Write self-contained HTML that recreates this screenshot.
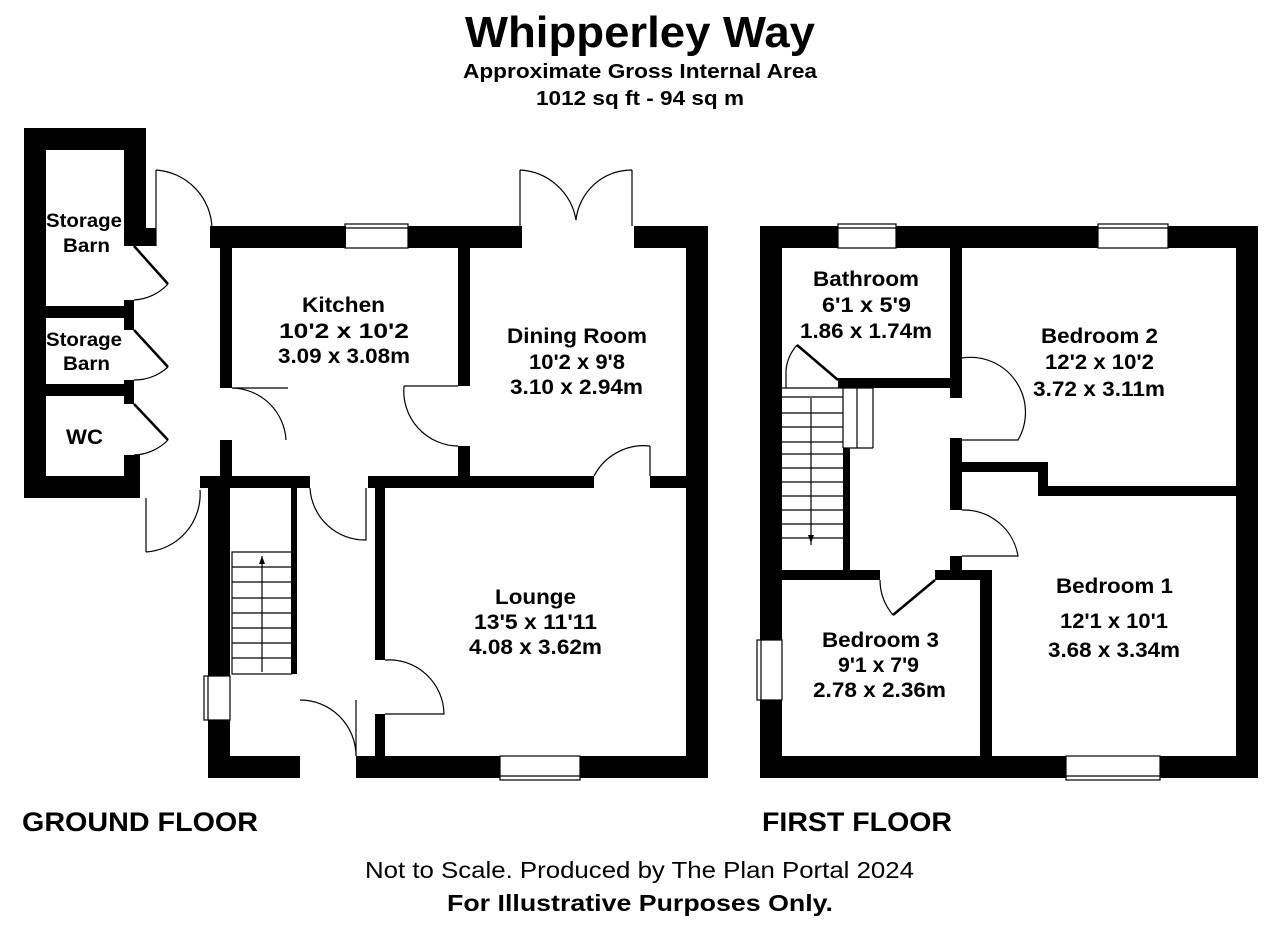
<!DOCTYPE html>
<html><head><meta charset="utf-8"><style>
html,body{margin:0;padding:0;background:#fff;}
svg{display:block;}
text{font-family:"Liberation Sans",Arial,sans-serif;fill:#000;}
</style></head><body>
<svg width="1280" height="927" viewBox="0 0 1280 927" xmlns="http://www.w3.org/2000/svg">
<text x="465" y="47" font-size="44" font-weight="bold" textLength="350" lengthAdjust="spacingAndGlyphs">Whipperley Way</text>
<text x="463" y="78" font-size="20" font-weight="bold" textLength="354" lengthAdjust="spacingAndGlyphs">Approximate Gross Internal Area</text>
<text x="536" y="105" font-size="20" font-weight="bold" textLength="208" lengthAdjust="spacingAndGlyphs">1012 sq ft - 94 sq m</text>

<g fill="#000">
<rect x="24" y="128" width="122" height="22"/>
<rect x="24" y="128" width="22" height="370"/>
<rect x="24" y="476" width="116" height="22"/>
<rect x="124" y="128" width="22" height="118"/>
<rect x="124" y="228" width="32" height="18"/>
<rect x="46" y="306" width="86" height="12"/>
<rect x="124" y="300" width="10" height="30"/>
<rect x="46" y="384" width="86" height="12"/>
<rect x="124" y="380" width="10" height="24"/>
<rect x="124" y="455" width="16" height="40"/>
<rect x="210" y="226" width="136" height="22"/>
<rect x="408" y="226" width="114" height="22"/>
<rect x="634" y="226" width="74" height="22"/>
<rect x="686" y="226" width="22" height="552"/>
<rect x="220" y="248" width="12" height="140"/>
<rect x="220" y="440" width="12" height="48"/>
<rect x="458" y="248" width="12" height="138"/>
<rect x="458" y="446" width="12" height="32"/>
<rect x="200" y="476" width="110" height="12"/>
<rect x="368" y="476" width="226" height="12"/>
<rect x="650" y="476" width="36" height="12"/>
<rect x="208" y="478" width="22" height="198"/>
<rect x="208" y="720" width="22" height="58"/>
<rect x="291" y="488" width="6" height="186"/>
<rect x="375" y="488" width="10" height="172"/>
<rect x="375" y="714" width="10" height="44"/>
<rect x="208" y="756" width="92" height="22"/>
<rect x="356" y="756" width="144" height="22"/>
<rect x="580" y="756" width="128" height="22"/>

<rect x="760" y="226" width="78" height="22"/>
<rect x="896" y="226" width="202" height="22"/>
<rect x="1168" y="226" width="90" height="22"/>
<rect x="760" y="226" width="22" height="414"/>
<rect x="760" y="700" width="22" height="78"/>
<rect x="1236" y="226" width="22" height="552"/>
<rect x="760" y="756" width="306" height="22"/>
<rect x="1160" y="756" width="98" height="22"/>
<rect x="950" y="248" width="12" height="150"/>
<rect x="838" y="378" width="124" height="10"/>
<rect x="950" y="438" width="12" height="28"/>
<rect x="950" y="462" width="98" height="10"/>
<rect x="1038" y="462" width="10" height="34"/>
<rect x="1038" y="486" width="198" height="10"/>
<rect x="950" y="472" width="12" height="38"/>
<rect x="950" y="556" width="12" height="24"/>
<rect x="843" y="448" width="7" height="124"/>
<rect x="782" y="570" width="98" height="10"/>
<rect x="935" y="570" width="57" height="10"/>
<rect x="980" y="570" width="12" height="190"/>
</g>

<g fill="none" stroke="#000" stroke-width="1.2">
<rect x="345" y="224" width="63" height="24"/><line x1="345" y1="228" x2="408" y2="228"/>
<rect x="500" y="756" width="80" height="24"/><line x1="500" y1="776" x2="580" y2="776"/>
<rect x="204" y="676" width="26" height="44"/><line x1="208" y1="676" x2="208" y2="720"/>
<rect x="838" y="224" width="58" height="24"/><line x1="838" y1="228" x2="896" y2="228"/>
<rect x="1098" y="224" width="70" height="24"/><line x1="1098" y1="228" x2="1168" y2="228"/>
<rect x="1066" y="756" width="94" height="24"/><line x1="1066" y1="776" x2="1160" y2="776"/>
<rect x="757" y="640" width="25" height="60"/><line x1="761" y1="640" x2="761" y2="700"/>
<path d="M156 170 L156 246 M156 170 A60 60 0 0 1 212 228"/>
<path d="M146 498 L146 552 M146 552 A58 58 0 0 0 200 490"/>
<path d="M232 388 L288 388 M232 388 A55 55 0 0 1 286 440"/>
<path d="M458 386 L404 386 M404 386 A55 55 0 0 0 458 446"/>
<path d="M520 170 L520 226 M520 170 A60 60 0 0 1 576 220 M632 170 L632 226 M632 170 A56 56 0 0 0 576 220"/>
<path d="M650 446 L650 476 M650 446 A56 56 0 0 0 594 476"/>
<path d="M310 488 A55 55 0 0 0 366 540 L366 488"/>
<path d="M385 660 A55 55 0 0 1 444 714 L385 714"/>
<path d="M300 700 A56 56 0 0 1 356 756 L356 700"/>
<path d="M134 300 A50 50 0 0 0 168 284 M134 380 A50 50 0 0 0 168 367 M134 455 A50 50 0 0 0 168 440"/>
<rect x="232" y="552" width="60" height="122"/>
<path d="M232 567 H292 M232 582 H292 M232 598 H292 M232 613 H292 M232 628 H292 M232 643 H292 M232 658 H292"/>
<path d="M262 672 V556"/>
<path d="M962 358 A55 55 0 0 1 1018 440 L962 440"/>
<path d="M962 510 A55 55 0 0 1 1018 556 L962 556"/>
<path d="M880 580 A55 55 0 0 0 893 615"/>
<path d="M786 388 L786 370 A45 45 0 0 1 797 345"/>
<path d="M782 388 H873"/>
<path d="M782 397 H843 M782 413 H843 M782 427 H843 M782 442 H843"/>
<path d="M782 454 H843 M782 468 H843 M782 482 H843 M782 496 H843 M782 510 H843 M782 524 H843 M782 538 H843"/>
<path d="M811 398 V545"/>
<path d="M843 388 V448 M857 388 V448 M873 388 V448 M843 448 H873"/>
</g>
<g stroke="#000" stroke-width="2.5" fill="none">
<line x1="134" y1="246" x2="168" y2="284"/>
<line x1="134" y1="330" x2="168" y2="367"/>
<line x1="134" y1="404" x2="168" y2="440"/>
<line x1="935" y1="580" x2="893" y2="615"/>
<line x1="797" y1="345" x2="838" y2="380"/>
</g>
<polygon points="259,564 262,556 265,564" fill="#000"/>
<polygon points="808,535 811,543 814,535" fill="#000"/>

<g font-weight="bold" font-size="21">
<text x="46" y="227" font-size="19" textLength="76" lengthAdjust="spacingAndGlyphs">Storage</text><text x="63" y="252" font-size="19" textLength="47" lengthAdjust="spacingAndGlyphs">Barn</text>
<text x="46" y="346" font-size="19" textLength="76" lengthAdjust="spacingAndGlyphs">Storage</text><text x="63" y="370" font-size="19" textLength="47" lengthAdjust="spacingAndGlyphs">Barn</text>
<text x="66" y="444" textLength="37" lengthAdjust="spacingAndGlyphs">WC</text>
<text x="302" y="312" textLength="83" lengthAdjust="spacingAndGlyphs">Kitchen</text><text x="279" y="338" textLength="130" lengthAdjust="spacingAndGlyphs">10'2 x 10'2</text><text x="278" y="363" textLength="132" lengthAdjust="spacingAndGlyphs">3.09 x 3.08m</text>
<text x="507" y="343" textLength="140" lengthAdjust="spacingAndGlyphs">Dining Room</text><text x="529" y="369" textLength="96" lengthAdjust="spacingAndGlyphs">10'2 x 9'8</text><text x="510" y="394" textLength="133" lengthAdjust="spacingAndGlyphs">3.10 x 2.94m</text>
<text x="495" y="604" textLength="81" lengthAdjust="spacingAndGlyphs">Lounge</text><text x="474" y="629" textLength="123" lengthAdjust="spacingAndGlyphs">13'5 x 11'11</text><text x="469" y="654" textLength="133" lengthAdjust="spacingAndGlyphs">4.08 x 3.62m</text>
<text x="813" y="286" textLength="106" lengthAdjust="spacingAndGlyphs">Bathroom</text><text x="822" y="312" textLength="89" lengthAdjust="spacingAndGlyphs">6'1 x 5'9</text><text x="800" y="338" textLength="132" lengthAdjust="spacingAndGlyphs">1.86 x 1.74m</text>
<text x="1041" y="343" textLength="117" lengthAdjust="spacingAndGlyphs">Bedroom 2</text><text x="1045" y="369" textLength="109" lengthAdjust="spacingAndGlyphs">12'2 x 10'2</text><text x="1033" y="396" textLength="132" lengthAdjust="spacingAndGlyphs">3.72 x 3.11m</text>
<text x="1056" y="593" textLength="117" lengthAdjust="spacingAndGlyphs">Bedroom 1</text><text x="1060" y="628" textLength="108" lengthAdjust="spacingAndGlyphs">12'1 x 10'1</text><text x="1048" y="657" textLength="132" lengthAdjust="spacingAndGlyphs">3.68 x 3.34m</text>
<text x="822" y="647" textLength="117" lengthAdjust="spacingAndGlyphs">Bedroom 3</text><text x="838" y="672" textLength="81" lengthAdjust="spacingAndGlyphs">9'1 x 7'9</text><text x="813" y="697" textLength="133" lengthAdjust="spacingAndGlyphs">2.78 x 2.36m</text>
</g>

<text x="22" y="831" font-size="27" font-weight="bold" textLength="236" lengthAdjust="spacingAndGlyphs">GROUND FLOOR</text>
<text x="762" y="831" font-size="27" font-weight="bold" textLength="190" lengthAdjust="spacingAndGlyphs">FIRST FLOOR</text>
<text x="365" y="878" font-size="23" textLength="549" lengthAdjust="spacingAndGlyphs">Not to Scale. Produced by The Plan Portal 2024</text>
<text x="447" y="911" font-size="23" font-weight="bold" textLength="386" lengthAdjust="spacingAndGlyphs">For Illustrative Purposes Only.</text>
</svg>
</body></html>
